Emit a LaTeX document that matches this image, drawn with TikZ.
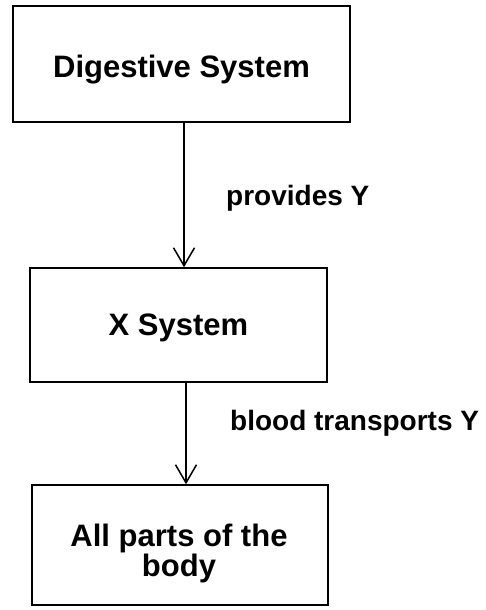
\documentclass[tikz,border=0pt]{standalone}
\usepackage{fontspec}
\setmainfont{Liberation Sans}
\usetikzlibrary{arrows.meta}
\begin{document}
\begin{tikzpicture}[x=1pt,y=-1pt,
  boxstyle/.style={draw=black, line width=1.5pt, inner sep=0pt, fill=white},
  boxtext/.style={font=\fontsize{31}{30}\selectfont\bfseries, align=center, inner sep=0pt},
  lbltext/.style={font=\fontsize{28}{30}\selectfont\bfseries, anchor=base west, inner sep=0pt},
  conn/.style={line width=1.5pt, -{Straight Barb[length=18pt,width=21pt,line width=1.5pt]}}]
\useasboundingbox (0,0) rectangle (486,610);
% boxes
\node[boxstyle, minimum width=337pt, minimum height=116pt] (ds) at (181.5,64) {};
\node[boxtext] (dst) at (181.5,70) {Digestive System};
\node[boxstyle, minimum width=297pt, minimum height=114pt] (xs) at (178.5,325) {};
\node[boxtext] (xst) at (178.5,328) {X System};
\node[boxstyle, minimum width=296pt, minimum height=120pt] (ap) at (180,545) {};
\node[boxtext] (apt) at (179,553) {All parts of the\\body};
% connectors
\coordinate (a1) at (184,0);
\draw[conn] (ds.south -| a1) -- (xs.north -| a1);
\coordinate (a2) at (186,0);
\draw[conn] (xs.south -| a2) -- (ap.north -| a2);
% labels
\node[lbltext] (l1) at (226,205) {provides Y};
\node[lbltext] (l2) at (230,430) {blood transports Y};
\end{tikzpicture}
\end{document}
